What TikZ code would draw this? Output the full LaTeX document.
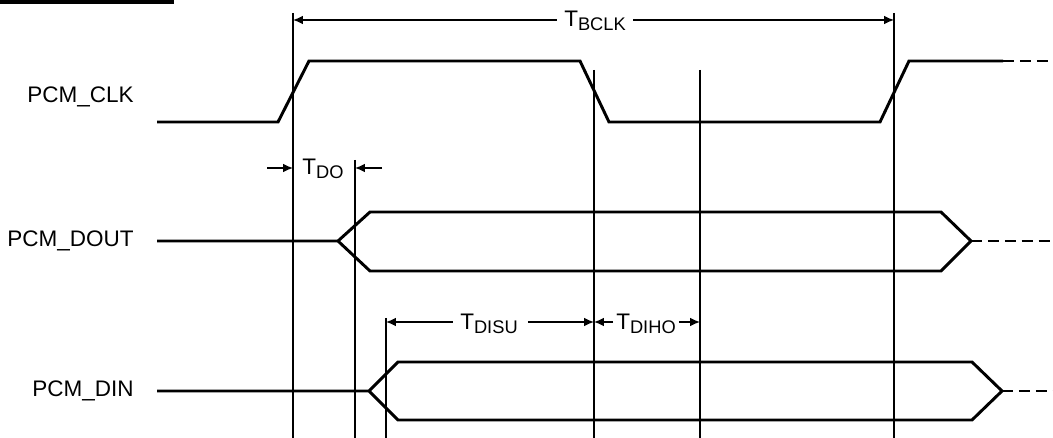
\documentclass[tikz,border=0pt]{standalone}
\usepackage{fontspec}
\setmainfont{Liberation Sans}
\usetikzlibrary{arrows.meta}

\tikzset{
  sig/.style={line width=2.1pt, line join=miter},
  tail/.style={line width=2.1pt, dash pattern=on 8pt off 4pt},
  guide/.style={line width=0.9pt},
  dim/.style={line width=0.8pt, -{Latex[length=7pt,width=6pt]}},
  lbl/.style={font=\fontsize{16}{19}\selectfont, inner sep=0pt},
  tlbl/.style={font=\fontsize{16}{19}\selectfont, inner sep=0pt},
}
\newcommand{\tsub}[1]{T\raisebox{-2.8pt}{\fontsize{13}{15}\selectfont #1}}

\begin{document}
\begin{tikzpicture}[x=0.025cm,y=-0.025cm]
  \useasboundingbox (0,0) rectangle (1053,438);
  \draw[line width=2.8pt] (0,2) -- (174,2); % header rule

  % signal names
  \node[lbl,anchor=east] (nclk) at (134,97) {PCM\_CLK};
  \node[lbl,anchor=east] (ndout) at (134,241) {PCM\_DOUT};
  \node[lbl,anchor=east] (ndin) at (134,391) {PCM\_DIN};

  % guide lines
  \draw[guide] (293,13) -- (293,438); % clk rise
  \draw[guide] (355,160) -- (355,438); % dout valid
  \draw[guide] (386,318) -- (386,438); % din setup
  \draw[guide] (594,70) -- (594,438); % clk fall
  \draw[guide] (700,70) -- (700,438); % din hold
  \draw[guide] (894,13) -- (894,438); % next rise

  % PCM_CLK
  \draw[sig] (157,122) -- (278,122) -- (309,61) -- (580,61) -- (609,122)
    -- (880,122) -- (909,61) -- (1003,61);
  \draw[tail] (1003,61) -- (1053,61);

  % PCM_DOUT
  \draw[sig] (157,241) -- (338,241) -- (370,212) -- (941,212) -- (971,241)
    -- (941,271) -- (370,271) -- (338,241);
  \draw[tail] (971,241) -- (1053,241);

  % PCM_DIN
  \draw[sig] (157,391) -- (369,391) -- (398,362) -- (972,362) -- (1002,391)
    -- (972,420) -- (398,420) -- (369,391);
  \draw[tail] (1002,391) -- (1053,391);

  % T_BCLK
  \coordinate (bclkL) at (293,20);
  \coordinate (bclkR) at (894,20);
  \node[tlbl,anchor=base] (tbclk) at (595,27) {\tsub{BCLK}};
  \draw[dim] ([xshift=-5pt]tbclk.west |- bclkL) -- (bclkL);
  \draw[dim] ([xshift=5pt]tbclk.east |- bclkR) -- (bclkR);

  % T_DO
  \coordinate (doL) at (293,168);
  \coordinate (doR) at (355,168);
  \coordinate (doLo) at (267,168);
  \coordinate (doRo) at (382,168);
  \node[tlbl,anchor=base] (tdo) at (323,175) {\tsub{DO}};
  \draw[dim] (doLo) -- (doL);
  \draw[dim] (doRo) -- (doR);

  % T_DISU
  \coordinate (suL) at (386,322);
  \coordinate (suR) at (594,322);
  \node[tlbl,anchor=base] (tdisu) at (489,330) {\tsub{DISU}};
  \draw[dim] ([xshift=-5pt]tdisu.west |- suL) -- (suL);
  \draw[dim] ([xshift=7pt]tdisu.east |- suR) -- (suR);

  % T_DIHO
  \coordinate (hoL) at (594,322);
  \coordinate (hoR) at (700,322);
  \node[tlbl,anchor=base] (tdiho) at (646,330) {\tsub{DIHO}};
  \draw[dim] ([xshift=-2pt]tdiho.west |- hoL) -- (hoL);
  \draw[dim] ([xshift=2pt]tdiho.east |- hoR) -- (hoR);
\end{tikzpicture}
\end{document}
